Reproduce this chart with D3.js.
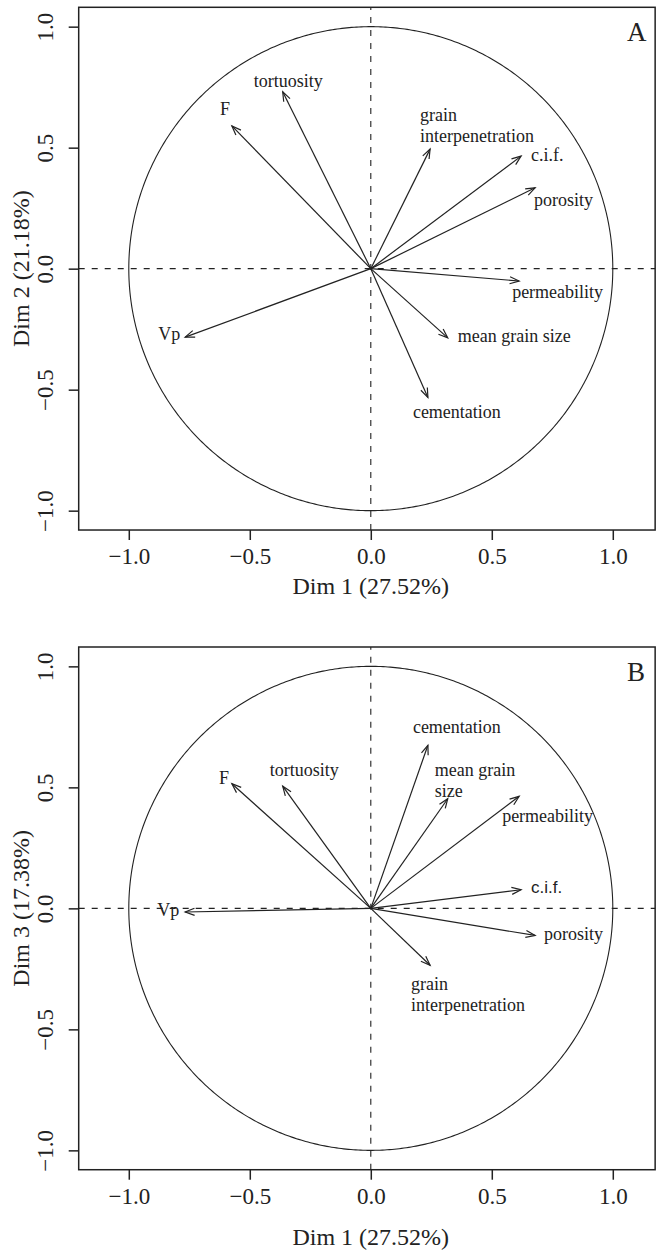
<!DOCTYPE html>
<html>
<head>
  <meta charset="utf-8" />
  <script src="https://d3js.org/d3.v7.min.js"></script>
</head>
<style>
body { margin: 0; background: #fff; }
svg text { font-family: "Liberation Serif", "Times New Roman", serif; fill: #222; }
</style>
<body>
<div id="viz"></div>
<script>
'use strict';

// variable coordinates on the PCA dimensions
const variables = ['F', 'tortuosity', 'Vp', 'grain interpenetration', 'c.i.f.',
  'porosity', 'permeability', 'mean grain size', 'cementation'];
const dim1 = [-0.574, -0.364, -0.767, 0.245, 0.621, 0.679, 0.613, 0.318, 0.236];
const dim2 = [0.590, 0.731, -0.283, 0.494, 0.465, 0.334, -0.051, -0.286, -0.532];
const dim3 = [0.515, 0.505, -0.015, -0.235, 0.077, -0.112, 0.463, 0.453, 0.674];

const ticks = [-1.0, -0.5, 0.0, 0.5, 1.0];
const xTitle = 'Dim 1 (27.52%)';
const yTitleA = 'Dim 2 (21.18%)';
const yTitleB = 'Dim 3 (17.38%)';

// label placement, pixel offsets from the arrow tip (lines split with |)
const labelsA = {
  'F': [-12, -11, 'F'],
  'tortuosity': [-29, -5, 'tortuosity'],
  'Vp': [-27, 3, 'Vp'],
  'grain interpenetration': [-10, -28, 'grain|interpenetration'],
  'c.i.f.': [10, 5, 'c.i.f.'],
  'porosity': [-1, 18, 'porosity'],
  'permeability': [-7, 17, 'permeability'],
  'mean grain size': [10, 4, 'mean grain size'],
  'cementation': [-15, 21, 'cementation']
};
const labelsB = {
  'F': [-13, 0, 'F'],
  'tortuosity': [-13, -10, 'tortuosity'],
  'Vp': [-28, 4, 'Vp'],
  'grain interpenetration': [-19, 25, 'grain|interpenetration'],
  'c.i.f.': [10, 3, 'c.i.f.'],
  'porosity': [9, 5, 'porosity'],
  'permeability': [-17, 26, 'permeability'],
  'mean grain size': [-13, -23, 'mean grain|size'],
  'cementation': [-15, -12, 'cementation']
};

const W = 660, H = 1254;
const ink = '#222';

const svg = d3.select('#viz').append('svg')
  .attr('width', W).attr('height', H);
svg.append('rect').attr('width', W).attr('height', H).attr('fill', '#fff');

function panel(top, ydata, yTitle, letter, labels, sansCif, titleGap) {
  const g = svg.append('g');
  const left = 78.7;
  const unit = 242;
  const xlim = [-1.207, 1.175];
  const ylim = [-1.08, 1.08];
  const x = d3.scaleLinear().domain(xlim).range([left, left + (xlim[1] - xlim[0]) * unit]);
  const y = d3.scaleLinear().domain(ylim).range([top + (ylim[1] - ylim[0]) * unit, top]);

  // unit circle
  const circ = d3.line().x(d => x(Math.cos(d))).y(d => y(Math.sin(d)));
  g.append('path')
    .attr('d', circ(d3.range(0, 2 * Math.PI + 0.01, 0.01)))
    .attr('fill', 'none').attr('stroke', ink).attr('stroke-width', 1.1);

  // dashed zero lines
  g.append('line')
    .attr('x1', x(xlim[0])).attr('x2', x(xlim[1])).attr('y1', y(0)).attr('y2', y(0))
    .attr('stroke', ink).attr('stroke-width', 1.1).attr('stroke-dasharray', '6,7');
  g.append('line')
    .attr('x1', x(0)).attr('x2', x(0)).attr('y1', y(ylim[0])).attr('y2', y(ylim[1]))
    .attr('stroke', ink).attr('stroke-width', 1.1).attr('stroke-dasharray', '6,7');

  // box
  g.append('rect')
    .attr('x', x(xlim[0])).attr('y', y(ylim[1]))
    .attr('width', x(xlim[1]) - x(xlim[0])).attr('height', y(ylim[0]) - y(ylim[1]))
    .attr('fill', 'none').attr('stroke', ink).attr('stroke-width', 1.5);

  // axes
  const xAxis = g.append('g')
    .attr('transform', 'translate(0,' + y(ylim[0]) + ')')
    .call(d3.axisBottom(x).tickValues(ticks).tickSize(10).tickPadding(0)
      .tickFormat(d => d3.format('.1f')(d).replace('-', '\u2212')));
  xAxis.select('.domain').remove();
  xAxis.selectAll('line').attr('stroke', ink).attr('stroke-width', 1.5);
  xAxis.selectAll('text')
    .attr('dy', null).attr('y', 34)
    .style('font-family', '"Liberation Serif", serif').style('font-size', '23px').attr('fill', ink);

  const yAxis = g.append('g')
    .attr('transform', 'translate(' + x(xlim[0]) + ',0)')
    .call(d3.axisLeft(y).tickValues(ticks).tickSize(10).tickPadding(0)
      .tickFormat(d => d3.format('.1f')(d).replace('-', '\u2212')));
  yAxis.select('.domain').remove();
  yAxis.selectAll('line').attr('stroke', ink).attr('stroke-width', 1.5);
  yAxis.selectAll('text')
    .attr('x', null).attr('dy', null)
    .attr('text-anchor', 'middle')
    .attr('transform', 'translate(-25.5,0) rotate(-90)')
    .style('font-family', '"Liberation Serif", serif').style('font-size', '23px').attr('fill', ink);

  // axis titles
  g.append('text')
    .attr('x', x(0)).attr('y', y(ylim[0]) + titleGap)
    .attr('text-anchor', 'middle').style('font-size', '24px')
    .text(xTitle);
  g.append('text')
    .attr('transform', 'translate(28.5,' + y(0) + ') rotate(-90)')
    .attr('text-anchor', 'middle').style('font-size', '24px')
    .text(yTitle);

  // panel letter
  g.append('text')
    .attr('x', 627).attr('y', top + 34)
    .style('font-size', '27px')
    .text(letter);

  // arrows
  const tip = 10, spread = 0.36;
  variables.forEach((v, i) => {
    const x0 = x(0), y0 = y(0);
    const x1 = x(dim1[i]), y1 = y(ydata[i]);
    const a = Math.atan2(y1 - y0, x1 - x0);
    g.append('line')
      .attr('x1', x0).attr('y1', y0).attr('x2', x1).attr('y2', y1)
      .attr('stroke', ink).attr('stroke-width', 1.2);
    const head = [
      [x1 - tip * Math.cos(a - spread), y1 - tip * Math.sin(a - spread)],
      [x1, y1],
      [x1 - tip * Math.cos(a + spread), y1 - tip * Math.sin(a + spread)]
    ];
    g.append('path')
      .attr('d', d3.line()(head))
      .attr('fill', 'none').attr('stroke', ink).attr('stroke-width', 1.2);

    const lab = labels[v];
    const t = g.append('text')
      .attr('x', x1 + lab[0]).attr('y', y1 + lab[1])
      .style('font-size', '18px');
    if (sansCif && v === 'c.i.f.') {
      t.style('font-family', '"Liberation Sans", Arial, sans-serif').style('font-size', '17px');
    }
    lab[2].split('|').forEach((s, k) => {
      t.append('tspan').attr('x', x1 + lab[0]).attr('dy', k === 0 ? 0 : 21).text(s);
    });
  });
}

panel(7.3, dim2, yTitleA, 'A', labelsA, false, 64);
panel(647, dim3, yTitleB, 'B', labelsB, true, 75);
</script>
</body>
</html>
